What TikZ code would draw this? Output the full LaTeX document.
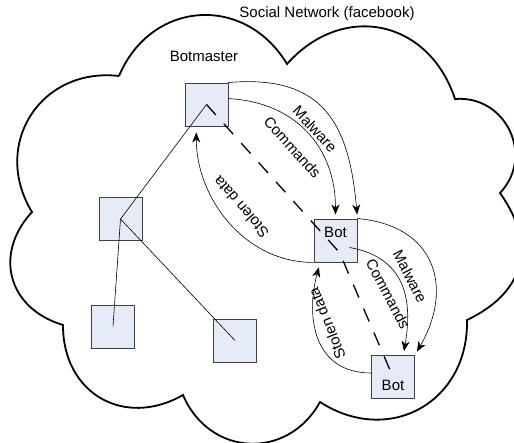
\documentclass[tikz,border=0pt]{standalone}
\usepackage{fontspec}
\setmainfont{Liberation Sans}
\usetikzlibrary{arrows.meta}
\definecolor{boxfill}{HTML}{E6ECF7}
\definecolor{boxline}{HTML}{404040}

\begin{document}
\begin{tikzpicture}[x=1pt,y=1pt,
  font=\fontsize{15}{18}\selectfont,
  pc/.style={draw=boxline,fill=boxfill,line width=0.9pt,minimum size=43pt,inner sep=0pt},
  bump/.style={bend left=#1,looseness=1.25},
  flow/.style={line width=0.6pt,shorten >=4pt,-{Stealth[length=10pt,width=8pt,inset=3pt]}},
  link/.style={line width=0.6pt},
  lbl/.style={inner sep=1pt}]
\useasboundingbox (0,0) rectangle (514,-443);
% the cloud
\draw[line width=1.8pt] (119,-76) to[bump=63] (287,-64) to[bump=60] (455,-99)
  to[bump=69] (500,-193) to[bump=50] (467,-320) to[bump=62] (320,-402)
  to[bump=64] (183,-395) to[bump=60] (63,-325) to[bump=58] (32,-212)
  to[bump=64] (119,-76);
\node (title) at (327,-14) {Social Network (facebook)};
\node (bmtext) at (204,-56) {Botmaster};
% machines
\node[pc] (bm) at (206.5,-104.5) {};
\node[pc] (n1) at (120.5,-219) {};
\node[pc] (n2) at (113,-326.5) {};
\node[pc] (n3) at (235,-340.5) {};
\node[pc,label={[anchor=center,yshift=-14pt]north:Bot}] (bot1) at (335.5,-240.5) {};
\node[pc,label={[anchor=center,yshift=-30pt]north:Bot}] (bot2) at (393,-377) {};
% links
\draw[link] (bm.center) -- (n1.center) -- (n2.center);
\draw[link] (n1.center) -- (n3.center);
\draw[line width=1.3pt,dash pattern=on 14pt off 12pt] (bm.center) -- ([shift={(4,-12)}]bot1.center) -- (bot2.center);
% botmaster <-> bot
\draw[flow] (bm.north east) to[out=5,in=95,looseness=1.3] (bot1.north east);
\draw[flow] (bm.15) to[out=-3,in=90,looseness=1.1] (bot1.north);
\draw[flow,shorten >=6pt] (bot1.south west) to[out=180,in=-90] (bm.-115);
% bot <-> bot
\draw[flow] (bot1.north east) to[out=-5,in=60,looseness=1.35] (bot2.north east);
\draw[flow] ([shift={(14,-7)}]bot1.center) to[out=-10,in=80,looseness=1.2] (bot2.65);
\draw[flow,shorten >=5pt] ([yshift=4pt]bot2.west) to[out=180,in=-105,looseness=1.2] (bot1.-125);
% labels
\node[lbl,rotate=-47] (mal1) at (315,-129) {Malware};
\node[lbl,rotate=-48] (cmd1) at (292.5,-147.5) {Commands};
\node[lbl,rotate=131] (sd1) at (241,-207) {Stolen data};
\node[lbl,rotate=-63] (mal2) at (410,-276.5) {Malware};
\node[lbl,rotate=-62] (cmd2) at (388,-294) {Commands};
\node[lbl,rotate=112] (sd2) at (327,-323.5) {Stolen data};
\end{tikzpicture}
\end{document}
